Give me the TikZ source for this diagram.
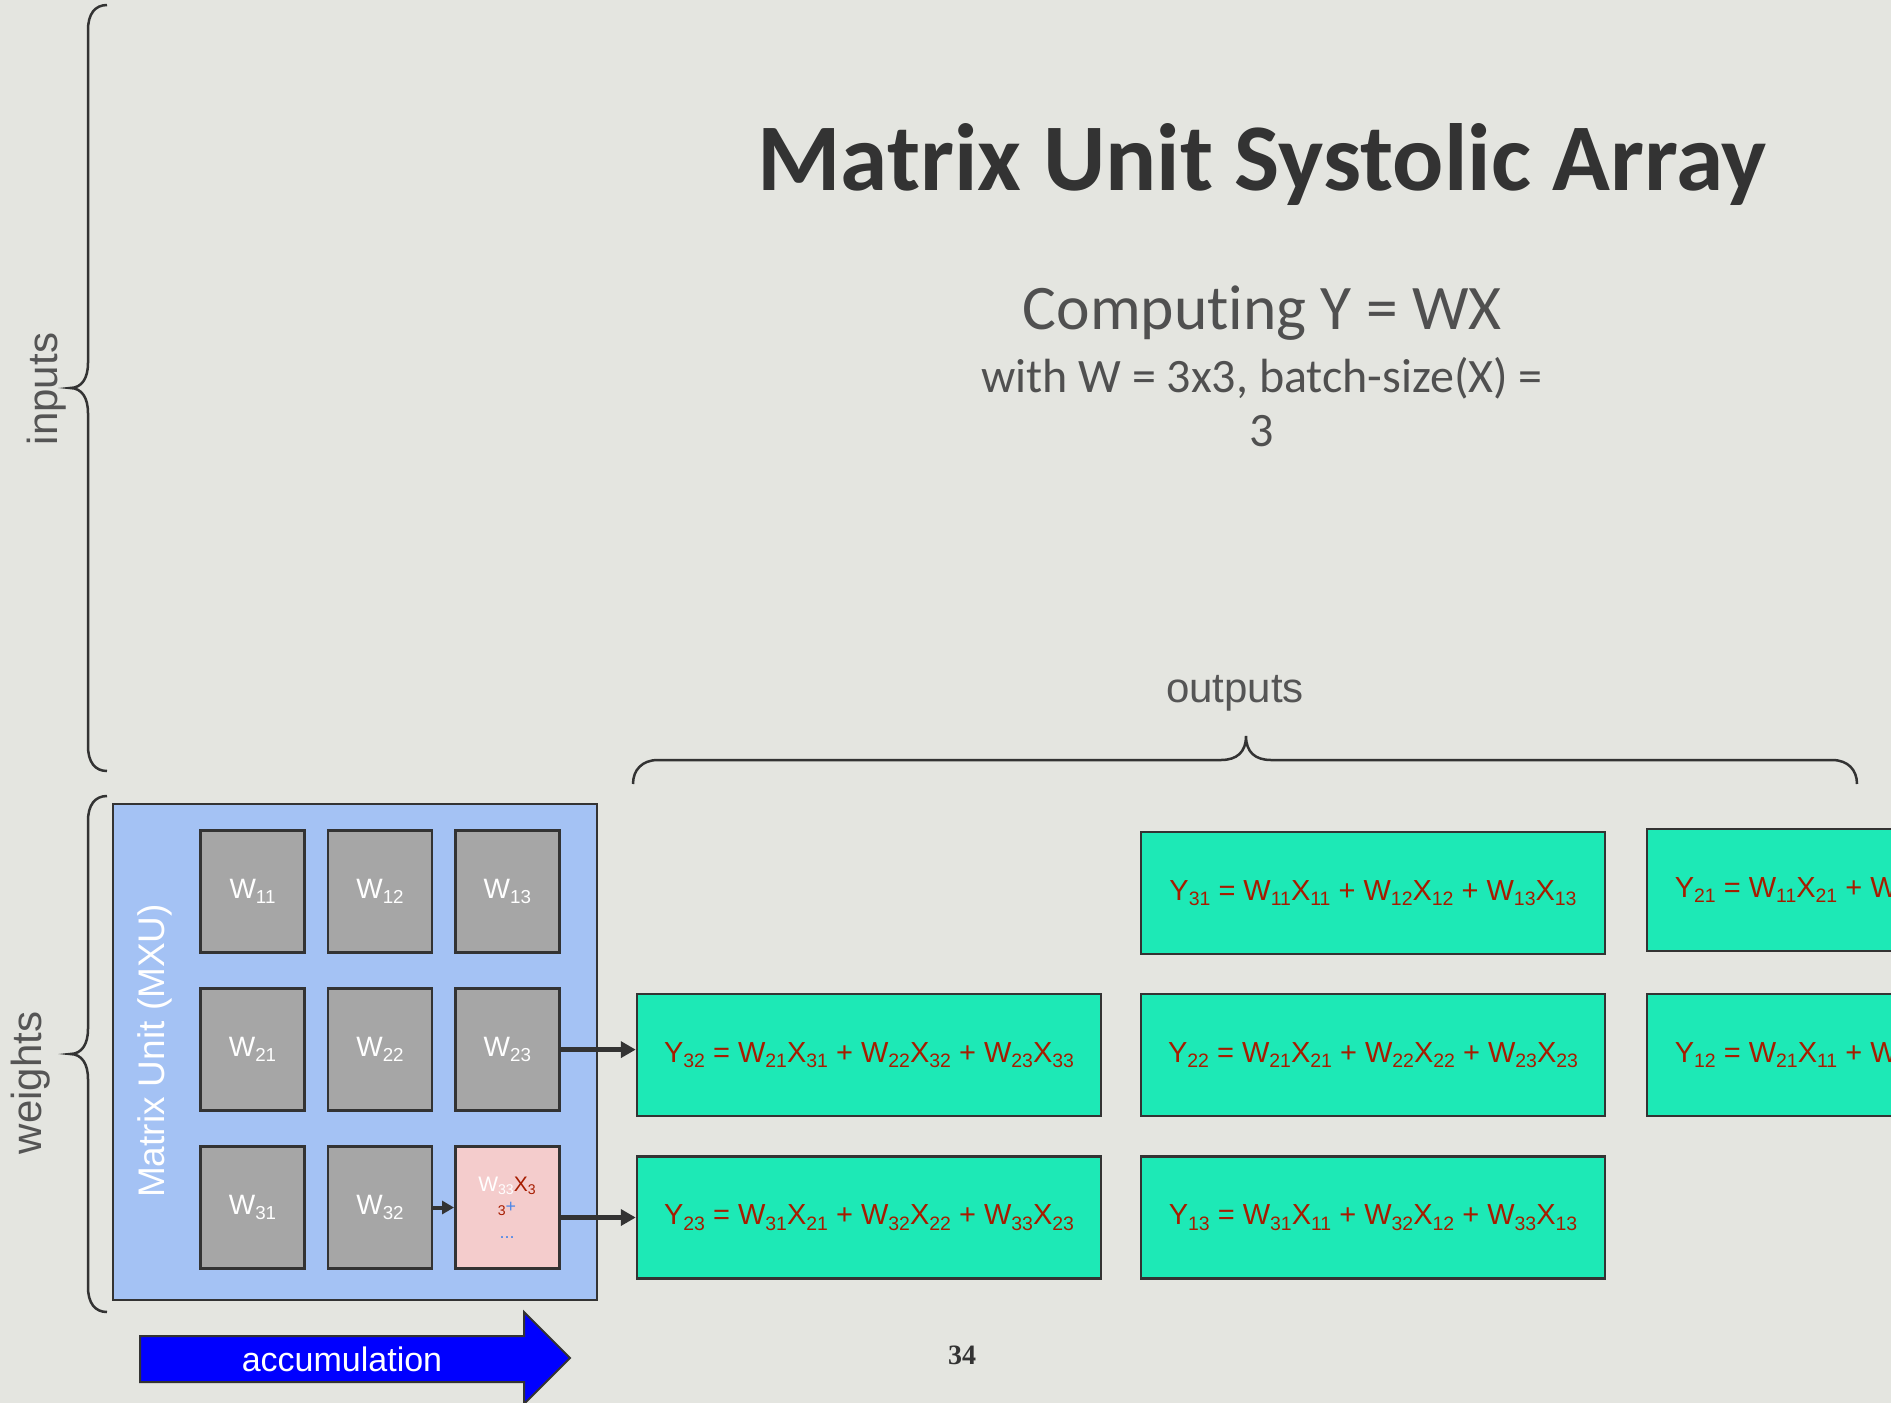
\documentclass[tikz,border=0pt]{standalone}
\usepackage{fontspec}
\usepackage{graphicx}
\setmainfont{Liberation Sans}
\newfontfamily\calibri[Ligatures={NoCommon,NoContextual}]{Carlito}
\newfontfamily\serifnum{Liberation Serif}
\usetikzlibrary{arrows.meta}
\definecolor{bg}{RGB}{228,229,224}
\definecolor{dk}{RGB}{51,51,51}
\definecolor{mxu}{HTML}{A4C2F4}
\definecolor{cellg}{HTML}{A6A6A6}
\definecolor{pinkc}{HTML}{F4CCCC}
\definecolor{grn}{HTML}{1DE9B6}
\definecolor{yred}{HTML}{A61C00}
\definecolor{cblue}{HTML}{4A86E8}
\definecolor{lbl}{RGB}{85,85,85}
\definecolor{ttl}{RGB}{51,51,51}
\definecolor{subt}{RGB}{80,80,80}
\newcommand{\sbx}[1]{\raisebox{-0.18em}{\scalebox{0.67}{#1}}}
\begin{document}
\begin{tikzpicture}[x=1pt,y=-1pt,
  wcell/.style={draw=dk,line width=2.5pt,fill=cellg,minimum width=104pt,minimum height=122pt,inner sep=0pt,text=white,font=\fontsize{28}{30}\selectfont},
  ybox/.style={draw=dk,line width=2.5pt,fill=grn,minimum width=464pt,minimum height=122pt,inner sep=0pt,text=yred,font=\fontsize{29}{32}\selectfont},
  brace/.style={draw=dk,line width=2.5pt},
  side/.style={text=lbl,font=\fontsize{42}{44}\selectfont,inner sep=0pt},
  flow/.style={draw=dk,line width=4.5pt,-{Triangle[length=15pt,width=16pt]}},
  heading/.style={anchor=base,inner sep=0pt}
]
\useasboundingbox (0,0) rectangle (1891,1403);
\clip (0,0) rectangle (1891,1403);
\fill[bg] (0,0) rectangle (1891,1403);

% title
\node[heading,text=ttl,font=\calibri\bfseries\fontsize{95.5}{100}\selectfont] (title) at (1262,190) {Matrix Unit Systolic Array};
\node[heading,text=subt,font=\calibri\fontsize{63.5}{70}\selectfont] (comp) at (1262,329) {Comput\kern0pt ing Y = WX};
\node[heading,text=subt,font=\calibri\fontsize{48}{54}\selectfont] (withw) at (1262,392) {with W = 3x3, batch-size(X) =};
\node[heading,text=subt,font=\calibri\fontsize{48}{54}\selectfont] (three) at (1262,446) {3};

% braces
\draw[brace] (107,5) .. controls (95,5) and (88,14) .. (88,30) -- (88,363) .. controls (88,378) and (82,388) .. (70,388) .. controls (82,388) and (88,398) .. (88,413) -- (88,746) .. controls (88,762) and (95,771) .. (107,771);
\draw[brace] (107,796) .. controls (95,796) and (88,805) .. (88,821) -- (88,1029) .. controls (88,1044) and (82,1054) .. (70,1054) .. controls (82,1054) and (88,1064) .. (88,1079) -- (88,1287) .. controls (88,1303) and (95,1312) .. (107,1312);
\draw[brace] (633,784) .. controls (633,770) and (642,760) .. (658,760) -- (1221,760) .. controls (1237,760) and (1246,752) .. (1246,736) .. controls (1246,752) and (1255,760) .. (1271,760) -- (1832,760) .. controls (1848,760) and (1857,770) .. (1857,784);
\node[side,rotate=90] (inputs) at (47,389) {inputs};
\node[side,rotate=90] (weights) at (31,1083) {weights};
\node[side] (outputs) at (1235,693) {outputs};

% matrix unit
\node[draw=dk,line width=2.5pt,fill=mxu,minimum width=484pt,minimum height=496pt,inner sep=0pt] (mxu) at (355,1052) {};
\node[rotate=90,text=white,font=\fontsize{37}{40}\selectfont,inner sep=0pt] (mxulbl) at (155,1051) {Matrix Unit (MXU)};

\node[wcell] (w11) at (252.5,891.7) {W\sbx{11}};
\node[wcell] (w12) at (380,891.7) {W\sbx{12}};
\node[wcell] (w13) at (507.3,891.7) {W\sbx{13}};
\node[wcell] (w21) at (252.5,1049.6) {W\sbx{21}};
\node[wcell] (w22) at (380,1049.6) {W\sbx{22}};
\node[wcell] (w23) at (507.3,1049.6) {W\sbx{23}};
\node[wcell] (w31) at (252.5,1207.5) {W\sbx{31}};
\node[wcell] (w32) at (380,1207.5) {W\sbx{32}};
\node[wcell,fill=pinkc] (w33) at (507.3,1207.5) {};
\node[anchor=base,inner sep=0pt,font=\fontsize{21}{22}\selectfont] (w33a) at (507,1191) {\textcolor{white}{W\sbx{33}}\textcolor{yred}{X\sbx{3}}};
\node[anchor=base,inner sep=0pt,font=\fontsize{21}{22}\selectfont] (w33b) at (507,1212) {\textcolor{yred}{\sbx{3}}\textcolor{cblue}{\scalebox{0.85}{+}}};
\node[anchor=base,inner sep=0pt,font=\fontsize{18}{20}\selectfont,text=cblue] (w33c) at (507,1238) {...};

% outputs
\node[ybox] (y31) at (1373,893) {Y\sbx{31} = W\sbx{11}X\sbx{11} + W\sbx{12}X\sbx{12} + W\sbx{13}X\sbx{13}};
\node[ybox] (y22) at (1373,1055) {Y\sbx{22} = W\sbx{21}X\sbx{21} + W\sbx{22}X\sbx{22} + W\sbx{23}X\sbx{23}};
\node[ybox] (y13) at (1373,1217.5) {Y\sbx{13} = W\sbx{31}X\sbx{11} + W\sbx{32}X\sbx{12} + W\sbx{33}X\sbx{13}};
\node[ybox] (y32) at (869,1055) {Y\sbx{32} = W\sbx{21}X\sbx{31} + W\sbx{22}X\sbx{32} + W\sbx{23}X\sbx{33}};
\node[ybox] (y23) at (869,1217.5) {Y\sbx{23} = W\sbx{31}X\sbx{21} + W\sbx{32}X\sbx{22} + W\sbx{33}X\sbx{23}};
\node[ybox] (y21) at (1879,890) {Y\sbx{21} = W\sbx{11}X\sbx{21} + W\sbx{12}X\sbx{22} + W\sbx{13}X\sbx{23}};
\node[ybox] (y12) at (1879,1055) {Y\sbx{12} = W\sbx{21}X\sbx{11} + W\sbx{22}X\sbx{12} + W\sbx{23}X\sbx{13}};

% connectors
\draw[flow] (w23.east) -- (w23.east -| y32.west);
\draw[flow] (y23.west -| w33.east) -- (y23.west);
\draw[draw=dk,line width=4pt,-{Triangle[length=12pt,width=13pt]}] (w32.east) -- (w33.west);

% accumulation arrow
\draw[draw=dk,line width=2pt,fill=blue] (140,1336) -- (524,1336) -- (524,1312) -- (570,1358) -- (524,1404) -- (524,1382) -- (140,1382) -- cycle;
\node[text=white,font=\fontsize{34}{36}\selectfont,inner sep=0pt] (acc) at (342,1359) {accumulation};

\node[text=dk,font=\serifnum\bfseries\fontsize{28}{30}\selectfont,inner sep=0pt] (pg) at (962,1355) {34};
\end{tikzpicture}
\end{document}
